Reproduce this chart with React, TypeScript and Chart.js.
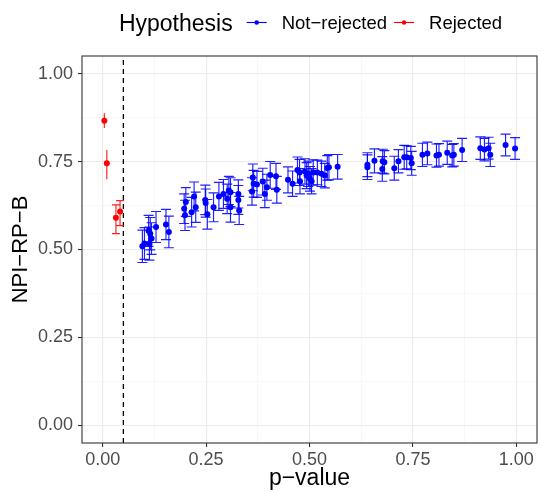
import React, { useEffect, useRef } from "react";
import { Chart, registerables } from "chart.js";
Chart.register(...registerables);

// ---- data ----
const cutoff = 0.05;

const redP = [0.004, 0.01, 0.032, 0.042];
const redV = [0.866, 0.745, 0.59, 0.608];
const redLo = [0.845, 0.7, 0.545, 0.568];
const redHi = [0.887, 0.783, 0.627, 0.639];

const blueP = [
  0.096, 0.101, 0.111, 0.115, 0.118, 0.113, 0.129, 0.153, 0.16,
  0.197, 0.201, 0.199, 0.215, 0.221, 0.225, 0.248, 0.249, 0.253, 0.268,
  0.281, 0.292, 0.301, 0.305, 0.309, 0.309, 0.328, 0.328, 0.33,
  0.363, 0.361, 0.365, 0.373, 0.387, 0.392, 0.397, 0.405, 0.419, 0.421,
  0.448, 0.459, 0.471, 0.477, 0.476, 0.489, 0.493, 0.497, 0.501, 0.505,
  0.509, 0.519, 0.529, 0.537, 0.543, 0.547, 0.568,
  0.64, 0.64, 0.657, 0.677, 0.681, 0.676, 0.705, 0.715, 0.729, 0.735,
  0.745, 0.747, 0.773, 0.785, 0.807, 0.813, 0.833, 0.845, 0.849, 0.869,
  0.913, 0.923, 0.933, 0.937, 0.974, 0.997,
];
const blueV = [
  0.509, 0.517, 0.553, 0.545, 0.531, 0.517, 0.564, 0.571, 0.55,
  0.616, 0.635, 0.597, 0.606, 0.651, 0.62, 0.641, 0.632, 0.6, 0.62,
  0.651, 0.658, 0.644, 0.668, 0.663, 0.62, 0.658, 0.641, 0.611,
  0.705, 0.665, 0.687, 0.685, 0.693, 0.658, 0.677, 0.712, 0.708, 0.67,
  0.698, 0.687, 0.726, 0.694, 0.719, 0.722, 0.71, 0.715, 0.701, 0.694,
  0.719, 0.719, 0.715, 0.71, 0.732, 0.734, 0.735,
  0.741, 0.734, 0.752, 0.751, 0.748, 0.729, 0.731, 0.751, 0.762, 0.762,
  0.76, 0.745, 0.769, 0.773, 0.767, 0.769, 0.775, 0.767, 0.769, 0.783,
  0.788, 0.784, 0.788, 0.769, 0.797, 0.787,
];
const blueErr = [
  0.046, 0.045, 0.044, 0.046, 0.045, 0.047, 0.044, 0.043, 0.045,
  0.042, 0.041, 0.043, 0.042, 0.041, 0.043, 0.042, 0.04, 0.042, 0.041,
  0.04, 0.041, 0.042, 0.04, 0.041, 0.042, 0.04, 0.041, 0.04,
  0.038, 0.039, 0.038, 0.037, 0.038, 0.039, 0.037, 0.038, 0.037, 0.038,
  0.037, 0.036, 0.037, 0.036, 0.037, 0.036, 0.037, 0.036, 0.035, 0.036,
  0.036, 0.035, 0.036, 0.035, 0.035, 0.036, 0.035,
  0.034, 0.035, 0.034, 0.034, 0.033, 0.035, 0.034, 0.033, 0.034, 0.033,
  0.033, 0.034, 0.033, 0.032, 0.033, 0.032, 0.033, 0.032, 0.032, 0.033,
  0.032, 0.032, 0.031, 0.033, 0.031, 0.031,
];

const yTickValues = [0, 0.125, 0.25, 0.375, 0.5, 0.625, 0.75, 0.875, 1];
const xTickValues = [0, 0.125, 0.25, 0.375, 0.5, 0.625, 0.75, 0.875, 1];

const legendTitle = "Hypothesis";
const seriesNames = ["Not\u2212rejected", "Rejected"];
const xTitle = "p\u2212value";
const yTitle = "NPI\u2212RP\u2212B";

const FONT = '"Liberation Sans", Arial, Helvetica, sans-serif';
const BLUE = "#0000FF";
const RED = "#FF0000";

const isMajor = (v: number) => Math.abs(v * 4 - Math.round(v * 4)) < 1e-6;

const errorBarPlugin = {
  id: "errorBars",
  beforeDatasetsDraw(chart: any) {
    const { ctx, chartArea, scales } = chart;
    const xs = scales.x;
    const ys = scales.y;
    ctx.save();
    // dashed cut-off line
    ctx.strokeStyle = "#000000";
    ctx.lineWidth = 1.3;
    ctx.setLineDash([5, 4]);
    const cx = xs.getPixelForValue(cutoff);
    ctx.beginPath();
    ctx.moveTo(cx, chartArea.bottom);
    ctx.lineTo(cx, chartArea.top);
    ctx.stroke();
    ctx.setLineDash([]);

    chart.data.datasets.forEach((ds: any) => {
      ctx.strokeStyle = ds.errColor;
      ctx.lineWidth = 1.15;
      ds.data.forEach((pt: any, i: number) => {
        const px = xs.getPixelForValue(pt.x);
        const pLo = ys.getPixelForValue(pt.lo);
        const pHi = ys.getPixelForValue(pt.hi);
        const cw = ds.capWidths ? ds.capWidths[i] : ds.capWidth;
        ctx.beginPath();
        ctx.moveTo(px, pLo);
        ctx.lineTo(px, pHi);
        if (cw > 0) {
          ctx.moveTo(px - cw / 2, pLo);
          ctx.lineTo(px + cw / 2, pLo);
          ctx.moveTo(px - cw / 2, pHi);
          ctx.lineTo(px + cw / 2, pHi);
        }
        ctx.stroke();
      });
    });
    ctx.restore();
  },
  afterDraw(chart: any) {
    const { ctx, chartArea } = chart;
    ctx.save();
    // panel border
    ctx.strokeStyle = "#333333";
    ctx.lineWidth = 1.1;
    ctx.strokeRect(
      chartArea.left,
      chartArea.top,
      chartArea.right - chartArea.left,
      chartArea.bottom - chartArea.top
    );

    // legend
    const titleFont = `23px ${FONT}`;
    const itemFont = `18.5px ${FONT}`;
    ctx.font = titleFont;
    const wTitle = ctx.measureText(legendTitle).width;
    ctx.font = itemFont;
    const w1 = ctx.measureText(seriesNames[0]).width;
    const w2 = ctx.measureText(seriesNames[1]).width;
    const keyW = 20;
    const gapTitle = 14;
    const gapKey = 15;
    const gapItem = 7;
    const total = wTitle + gapTitle + keyW + gapKey + w1 + gapItem + keyW + gapKey + w2;
    let x = (chartArea.left + chartArea.right) / 2 - total / 2 + 1;
    ctx.fillStyle = "#000000";
    ctx.textBaseline = "alphabetic";
    ctx.textAlign = "left";
    ctx.font = titleFont;
    ctx.fillText(legendTitle, x, 31);
    x += wTitle + gapTitle;
    const drawKey = (color: string, kx: number) => {
      ctx.strokeStyle = color;
      ctx.lineWidth = 1.1;
      ctx.beginPath();
      ctx.moveTo(kx, 22.5);
      ctx.lineTo(kx + keyW, 22.5);
      ctx.stroke();
      ctx.fillStyle = color;
      ctx.beginPath();
      ctx.arc(kx + keyW / 2, 22.5, 2.3, 0, Math.PI * 2);
      ctx.fill();
    };
    drawKey(BLUE, x);
    x += keyW + gapKey;
    ctx.fillStyle = "#000000";
    ctx.font = itemFont;
    ctx.fillText(seriesNames[0], x, 28.5);
    x += w1 + gapItem;
    drawKey(RED, x);
    x += keyW + gapKey;
    ctx.fillStyle = "#000000";
    ctx.font = itemFont;
    ctx.fillText(seriesNames[1], x, 28.5);
    ctx.restore();
  },
};

export default function App() {
  const ref = useRef<HTMLCanvasElement>(null);
  useEffect(() => {
    const canvas = ref.current;
    if (!canvas) return;
    const blueData = blueP.map((p, i) => ({
      x: p,
      y: blueV[i],
      lo: blueV[i] - blueErr[i],
      hi: blueV[i] + blueErr[i],
    }));
    const redData = redP.map((p, i) => ({ x: p, y: redV[i], lo: redLo[i], hi: redHi[i] }));

    const gridCfg = {
      color: (c: any) => (c.tick && isMajor(c.tick.value) ? "#EBEBEB" : "#F4F4F4"),
      lineWidth: (c: any) => (c.tick && isMajor(c.tick.value) ? 1.1 : 0.6),
      tickColor: (c: any) => (c.tick && isMajor(c.tick.value) ? "#333333" : "rgba(0,0,0,0)"),
      tickLength: 4,
      tickWidth: 1.1,
      drawTicks: true,
      drawOnChartArea: true,
    };

    const chart = new Chart(canvas, {
      type: "scatter",
      data: {
        datasets: [
          {
            label: seriesNames[0],
            data: blueData,
            backgroundColor: BLUE,
            borderColor: BLUE,
            borderWidth: 0,
            pointRadius: 3,
            pointHoverRadius: 3,
            errColor: "rgba(0,0,255,0.88)",
            capWidth: 10,
          } as any,
          {
            label: seriesNames[1],
            data: redData,
            backgroundColor: RED,
            borderColor: RED,
            borderWidth: 0,
            pointRadius: 3,
            pointHoverRadius: 3,
            errColor: "rgba(255,0,0,0.88)",
            capWidths: [0, 0, 8, 8],
          } as any,
        ],
      },
      options: {
        animation: false,
        responsive: true,
        maintainAspectRatio: false,
        layout: { padding: { top: 56, left: 0, right: 2, bottom: 0 } },
        plugins: {
          legend: { display: false },
          tooltip: { enabled: false },
        },
        scales: {
          x: {
            type: "linear",
            min: -0.05,
            max: 1.05,
            afterBuildTicks: (s: any) => {
              s.ticks = xTickValues.map((v) => ({ value: v }));
            },
            afterFit: (s: any) => {
              s.height = 49;
            },
            ticks: {
              autoSkip: false,
              maxRotation: 0,
              padding: 2,
              color: "#4D4D4D",
              font: { family: FONT, size: 18 },
              callback: (v: any) => (isMajor(Number(v)) ? Number(v).toFixed(2) : ""),
            },
            grid: gridCfg as any,
            border: { display: false },
            title: {
              display: true,
              text: xTitle,
              color: "#000000",
              font: { family: FONT, size: 23, lineHeight: 1 },
              padding: { top: 0, bottom: 1.5 },
            },
          },
          y: {
            type: "linear",
            min: -0.05,
            max: 1.05,
            afterBuildTicks: (s: any) => {
              s.ticks = yTickValues.map((v) => ({ value: v }));
            },
            afterFit: (s: any) => {
              s.width = 82;
            },
            ticks: {
              autoSkip: false,
              padding: 5,
              color: "#4D4D4D",
              font: { family: FONT, size: 18 },
              callback: (v: any) => (isMajor(Number(v)) ? Number(v).toFixed(2) : ""),
            },
            grid: gridCfg as any,
            border: { display: false },
            title: {
              display: true,
              text: yTitle,
              color: "#000000",
              font: { family: FONT, size: 22, lineHeight: 1 },
              padding: { top: 9.5, bottom: 0 },
            },
          },
        },
      },
      plugins: [errorBarPlugin],
    });
    return () => chart.destroy();
  }, []);

  return (
    <div style={{ position: "absolute", left: 0, top: 0, width: 540, height: 492, background: "#FFFFFF" }}>
      <canvas ref={ref} />
    </div>
  );
}
